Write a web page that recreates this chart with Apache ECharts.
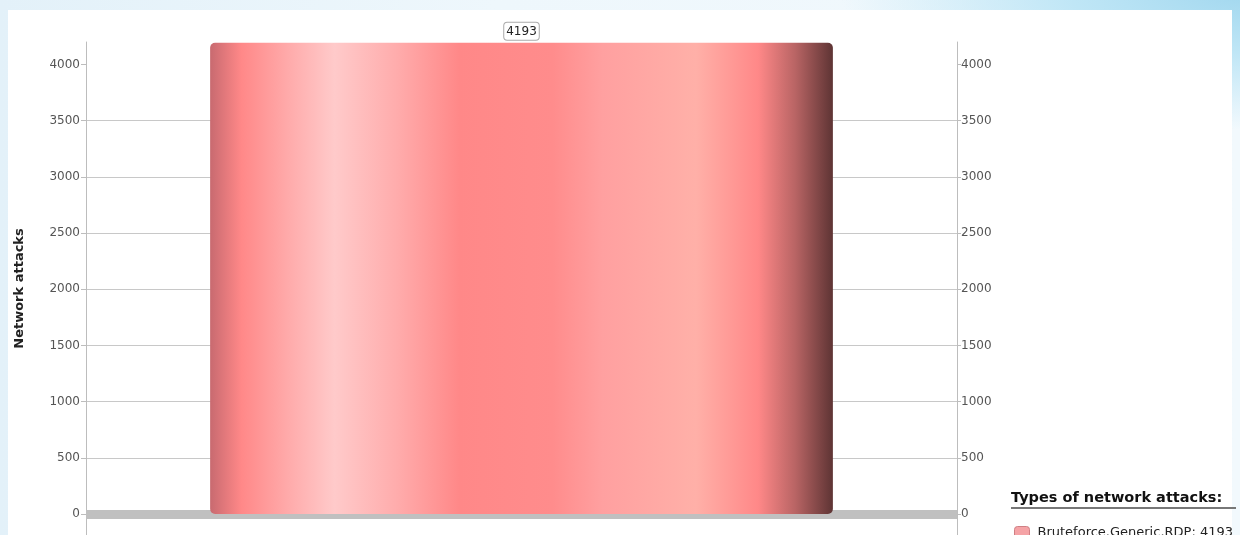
<!DOCTYPE html>
<html>
<head>
<meta charset="utf-8">
<script src="https://cdn.jsdelivr.net/npm/echarts@6/dist/echarts.min.js"></script>
<style>
  html, body { margin: 0; padding: 0; width: 1240px; height: 535px; overflow: hidden; }
  body {
    background:
      radial-gradient(ellipse 420px 140px at 1260px -10px, #9fd6ee 0%, #bfe6f6 45%, rgba(220,242,250,0) 100%),
      linear-gradient(90deg, #e3f1f9 0%, #eef7fc 40%, #f2f9fd 100%);
  }
  #panel { position: absolute; left: 8px; top: 10px; width: 1224px; height: 525px; background: #fff; }
  #chart { position: absolute; left: 0; top: 0; width: 1240px; height: 535px; }
</style>
</head>
<body>
<div id="panel"></div>
<div id="chart"></div>
<script>
// ---- data ----
const categories = ['Bruteforce.Generic.RDP'];
const attackValues = [4193];
const yTickValues = [0, 500, 1000, 1500, 2000, 2500, 3000, 3500, 4000];
const legendTitle = 'Types of network attacks:';
const yAxisName = 'Network attacks';

const chart = echarts.init(document.getElementById('chart'), null, { renderer: 'canvas' });

const barGradient = new echarts.graphic.LinearGradient(0, 0, 1, 0, [
  { offset: 0.00, color: '#c86a70' },
  { offset: 0.05, color: '#ff8888' },
  { offset: 0.12, color: '#ffa8a8' },
  { offset: 0.20, color: '#ffcaca' },
  { offset: 0.30, color: '#ffacac' },
  { offset: 0.40, color: '#ff8888' },
  { offset: 0.55, color: '#ff8c8c' },
  { offset: 0.63, color: '#ffa0a0' },
  { offset: 0.78, color: '#ffb0a8' },
  { offset: 0.88, color: '#ff8888' },
  { offset: 0.94, color: '#b86464' },
  { offset: 1.00, color: '#5e3434' }
]);

const plainNumber = function (v) { return String(v); };
const labelFont = { fontFamily: 'DejaVu Sans', fontSize: 12, color: '#555', formatter: plainNumber };

const yAxisCommon = {
  type: 'value',
  min: -187,
  max: 4200,
  splitNumber: 9,
  axisLine: { show: true, lineStyle: { color: '#bdbdbd', width: 1 } }
};

chart.setOption({
  backgroundColor: 'transparent',
  animation: false,
  title: {
    left: 1011,
    top: 489,
    padding: 0,
    text: '{t|' + legendTitle + '}\n{u|}',
    textStyle: {
      rich: {
        t: { fontFamily: 'DejaVu Sans', fontWeight: 'bold', fontSize: 14.5, color: '#111', lineHeight: 18 },
        u: { width: 225, height: 2, backgroundColor: '#777', lineHeight: 2 }
      }
    }
  },
  legend: {
    left: 1014,
    top: 526,
    padding: 0,
    itemWidth: 15,
    itemHeight: 12,
    icon: 'roundRect',
    itemStyle: { color: '#f5a3a6', borderColor: '#cf7f84', borderWidth: 1 },
    textStyle: { fontFamily: 'DejaVu Sans', fontSize: 13, color: '#222', padding: [0, 0, 0, 3] },
    data: categories,
    formatter: function (name) {
      const i = categories.indexOf(name);
      return name + ': ' + attackValues[i];
    }
  },
  grid: { left: 86, right: 283, top: 42, bottom: 0, containLabel: false },
  xAxis: {
    type: 'category',
    data: categories,
    offset: 4,
    axisLine: { show: true, onZero: true, lineStyle: { color: '#c0c0c0', width: 9, cap: 'butt' } },
    axisTick: { show: false },
    axisLabel: { show: false },
    splitLine: { show: false }
  },
  yAxis: [
    Object.assign({}, yAxisCommon, {
      position: 'left',
      name: yAxisName,
      nameLocation: 'middle',
      nameGap: 60,
      nameTextStyle: { fontFamily: 'DejaVu Sans', fontWeight: 'bold', fontSize: 13, color: '#222' },
      axisTick: { show: true, customValues: yTickValues, length: 5, lineStyle: { color: '#bdbdbd' } },
      axisLabel: Object.assign({ customValues: yTickValues, margin: 6 }, labelFont),
      splitLine: { show: true, showMinLine: false, showMaxLine: false, lineStyle: { color: '#c8c8c8', width: 1 } }
    }),
    Object.assign({}, yAxisCommon, {
      position: 'right',
      axisTick: { show: true, customValues: yTickValues, length: 4, lineStyle: { color: '#bdbdbd' } },
      axisLabel: Object.assign({ customValues: yTickValues, margin: 4 }, labelFont),
      splitLine: { show: false }
    })
  ],
  series: [{
    name: categories[0],
    type: 'bar',
    yAxisIndex: 0,
    data: attackValues,
    barWidth: '71.5%',
    itemStyle: { color: barGradient, borderRadius: 5 },
    label: {
      show: true,
      position: 'top',
      distance: 3,
      fontFamily: 'DejaVu Sans',
      fontSize: 12,
      color: '#222',
      backgroundColor: '#fff',
      borderColor: '#aaaaaa',
      borderWidth: 1,
      borderRadius: 3,
      padding: [3, 2, 2, 2]
    }
  }]
});
</script>
</body>
</html>
